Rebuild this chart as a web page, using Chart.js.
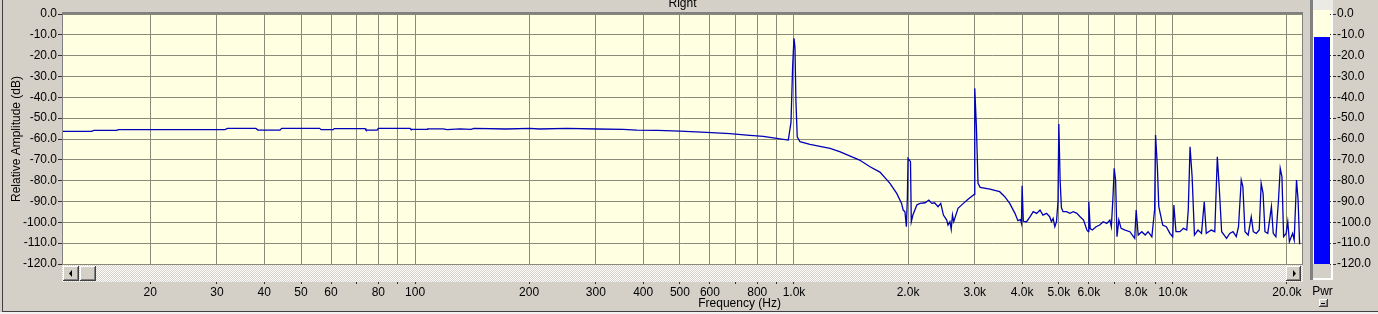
<!DOCTYPE html>
<html><head><meta charset="utf-8">
<script src="https://cdn.jsdelivr.net/npm/chart.js@4.4.1/dist/chart.umd.min.js"></script>
<style>
html,body{margin:0;padding:0;background:#D4D0C8;}
#wrap{position:relative;width:1378px;height:314px;overflow:hidden;background:#D4D0C8;}
#main{position:absolute;left:0;top:0;}
#meter{position:absolute;left:1306px;top:0;}
</style></head><body>
<div id="wrap"><canvas id="main" width="1378" height="314"></canvas><canvas id="meter" width="72" height="314"></canvas></div>
<script>
// ---- data ----
const freqHz = [11.7,14.0,14.2,16.3,16.5,31.5,32.0,38.0,38.5,44.0,44.5,56.0,56.5,60.8,61.2,73.8,74.2,79.4,80.0,97.0,97.5,107.6,108,118.6,121.6,131.4,140.5,143,174,201,213,251,302,354,385,436,500,588,678,750,830,900,966,982,992,1000,1006,1012,1020,1037,1102,1245,1320,1490,1587,1686,1792,1867,1923,1942,1963,1980,1992,2000,2030,2040,2060,2110,2150,2220,2270,2310,2350,2400,2440,2480,2530,2550,2580,2600,2620,2640,2710,2800,2880,2990,3000,3030,3060,3100,3290,3490,3600,3710,3830,3900,3960,3985,4000,4030,4110,4200,4280,4370,4460,4540,4640,4730,4780,4830,4880,4930,4975,5000,5040,5080,5130,5240,5350,5460,5580,5690,5810,5930,5980,6000,6050,6130,6270,6410,6550,6690,6820,6880,6950,7000,7060,7120,7200,7300,7480,7700,7930,8000,8100,8280,8450,8600,8800,8950,9000,9100,9180,9400,9610,9820,9990,10060,10190,10440,10660,10880,10980,11100,11240,11400,11650,11900,12100,12250,12630,12900,13100,13250,13450,13860,14130,14410,14700,14900,15150,15300,15500,15800,16100,16300,16600,16900,17100,17300,17500,17800,18200,18400,18700,19000,19200,19400,19600,19900,20100,20300,20700,20900,21200,21400,21600];
const levelDb = [-56.3,-56.3,-55.9,-55.9,-55.5,-55.5,-54.9,-54.9,-55.7,-55.7,-54.9,-54.9,-55.5,-55.5,-55.0,-55.0,-55.7,-55.7,-54.9,-54.9,-55.4,-55.4,-55.1,-55.1,-55.5,-55.1,-55.4,-54.9,-55.2,-54.9,-55.2,-54.9,-55.2,-55.4,-55.7,-55.9,-56.2,-56.8,-57.4,-58.1,-58.7,-59.7,-60.5,-52,-25,-11.7,-16,-42,-59,-61.3,-62.6,-64.5,-66.1,-70.1,-73.3,-75.9,-81.3,-86.1,-90.9,-94.1,-94.9,-102.1,-88,-69.3,-70.9,-99.7,-96.5,-91.7,-90.9,-90.6,-89.3,-90.9,-90.6,-92.5,-90.9,-96.5,-98.9,-101.3,-99.7,-103.4,-96.5,-99.7,-93.3,-90.9,-88.9,-86.6,-35.7,-54,-81.3,-83.2,-84.1,-85.3,-87.7,-90.9,-95.7,-99.2,-98.7,-100.5,-82.4,-99.5,-99.7,-97.3,-94.9,-95.7,-94.1,-96.5,-95.7,-97.3,-99.7,-98.1,-102.1,-99.7,-90,-52.8,-80,-93,-94.9,-94.9,-95.7,-94.9,-95.7,-97.3,-98.9,-103.7,-104.5,-90.1,-103,-103.7,-102.1,-101.3,-99.7,-100.5,-98.9,-102.1,-87.7,-74.1,-79.7,-106.9,-98.9,-102.9,-103.7,-104.5,-107.7,-94.1,-106.1,-104.5,-106.1,-104.5,-106.9,-94,-58.1,-73.3,-92.5,-101.3,-102.1,-105.3,-106.9,-91.7,-104.5,-104.5,-102.9,-103.7,-94.1,-63.7,-78.1,-106.1,-103.7,-105.3,-90.1,-105.3,-103.7,-104.5,-68.5,-82.9,-104.5,-107.7,-105.3,-104.5,-106.9,-102.1,-79.7,-82.9,-104.5,-106.1,-97.3,-104.5,-105.3,-103.7,-81.3,-86.1,-104.5,-105.3,-92.5,-105.3,-106.9,-89.3,-74.1,-78.1,-106.9,-105.3,-99.7,-109.3,-105.3,-108.5,-79.7,-89.3,-110.5];
const xGridFreqs = [20,30,40,50,60,70,80,90,100,200,300,400,500,600,700,800,900,1000,2000,3000,4000,5000,6000,7000,8000,9000,10000,20000];
const xLabelFreqs = [20,30,40,50,60,80,100,200,300,400,500,600,800,1000,2000,3000,4000,5000,6000,8000,10000,20000];
const xLabelText = ['20','30','40','50','60','80','100','200','300','400','500','600','800','1.0k','2.0k','3.0k','4.0k','5.0k','6.0k','8.0k','10.0k','20.0k'];
const meterLabels = ['Pwr'];
const pwrLevelDb = [-11.2];
const chartTitle = 'Right';
const xTitle = 'Frequency (Hz)';
const yTitle = 'Relative Amplitude (dB)';

const FONT = "'Liberation Sans', Arial, sans-serif";
Chart.defaults.font.family = FONT;
Chart.defaults.font.size = 12;
Chart.defaults.color = '#000';
const BG = '#D4D0C8', PLOT = '#FFFFE1', GRID = '#8A8A78';

function bevel(ctx, x, y, w, h) {
  ctx.fillStyle = BG; ctx.fillRect(x, y, w, h);
  ctx.fillStyle = '#FFFFFF'; ctx.fillRect(x, y, w - 1, 1); ctx.fillRect(x, y, 1, h - 1);
  ctx.fillStyle = '#404040'; ctx.fillRect(x, y + h - 1, w, 1); ctx.fillRect(x + w - 1, y, 1, h);
  ctx.fillStyle = '#808080'; ctx.fillRect(x + 1, y + h - 2, w - 2, 1); ctx.fillRect(x + w - 2, y + 1, 1, h - 2);
}

const mainPlugin = {
  id: 'mainDeco',
  beforeDraw(chart) {
    const ctx = chart.ctx, ca = chart.chartArea;
    ctx.save();
    ctx.fillStyle = BG; ctx.fillRect(0, 0, chart.width, chart.height);
    ctx.fillStyle = PLOT; ctx.fillRect(ca.left, ca.top, ca.right - ca.left, ca.bottom - ca.top);
    ctx.restore();
  },
  afterDraw(chart) {
    const ctx = chart.ctx, ca = chart.chartArea;
    ctx.save();
    ctx.fillStyle = '#808080';
    ctx.fillRect(ca.left, ca.top - 2, ca.right - ca.left, 2);
    ctx.fillRect(ca.left, ca.top, 1, ca.bottom - ca.top);
    ctx.fillRect(ca.right - 1, ca.top, 1, ca.bottom - ca.top);
    const pc = document.createElement('canvas'); pc.width = 2; pc.height = 2;
    const p = pc.getContext('2d');
    p.fillStyle = '#FFFFFF'; p.fillRect(0, 0, 2, 2);
    p.fillStyle = BG; p.fillRect(1, 0, 1, 1); p.fillRect(0, 1, 1, 1);
    ctx.fillStyle = ctx.createPattern(pc, 'repeat');
    const sT = ca.bottom + 1, sH = 17;
    ctx.fillRect(ca.left, sT, ca.right - ca.left, sH);
    bevel(ctx, ca.left + 1, sT + 1, 16, 15);
    bevel(ctx, ca.left + 18, sT + 1, 16, 15);
    bevel(ctx, ca.right - 17, sT + 1, 15, 15);
    ctx.fillStyle = '#000';
    const cy = sT + 8.5;
    ctx.beginPath(); ctx.moveTo(ca.left + 7, cy); ctx.lineTo(ca.left + 10, cy - 3.5); ctx.lineTo(ca.left + 10, cy + 3.5); ctx.closePath(); ctx.fill();
    ctx.beginPath(); ctx.moveTo(ca.right - 7, cy); ctx.lineTo(ca.right - 10, cy - 3.5); ctx.lineTo(ca.right - 10, cy + 3.5); ctx.closePath(); ctx.fill();
    ctx.font = '12px ' + FONT; ctx.fillStyle = '#000'; ctx.textAlign = 'center'; ctx.textBaseline = 'alphabetic';
    ctx.fillText(chartTitle, (ca.left + ca.right) / 2, 7);
    ctx.fillText(xTitle, ca.left + (ca.right - ca.left) * 0.546, 307);
    ctx.fillStyle = '#404040';
    ctx.fillRect(2, 0, 1, 311);
    ctx.fillRect(2, 311, chart.width, 1);
    ctx.fillStyle = '#F2F2F2';
    ctx.fillRect(0, 312, chart.width, 2);
    ctx.restore();
  }
};

new Chart(document.getElementById('main'), {
  type: 'scatter',
  data: { datasets: [{
    data: freqHz.map((f, i) => ({ x: f, y: levelDb[i] })),
    showLine: true, borderColor: '#0000B8', borderWidth: 1.3, pointRadius: 0, tension: 0, fill: false
  }] },
  options: {
    responsive: false, animation: false, devicePixelRatio: 1,
    layout: { padding: { left: 0, right: 75, top: 14, bottom: 0 } },
    plugins: { legend: { display: false }, tooltip: { enabled: false }, title: { display: false } },
    scales: {
      x: {
        type: 'logarithmic', min: 11.7, max: 22050, bounds: 'data', position: 'bottom',
        afterBuildTicks: s => { s.ticks = xGridFreqs.map(v => ({ value: v })); },
        afterFit: s => { s.height = 50; },
        ticks: { autoSkip: false, maxRotation: 0, minRotation: 0, padding: 1, color: '#000',
          callback: v => { const i = xLabelFreqs.indexOf(v); return i >= 0 ? xLabelText[i] : ''; } },
        grid: { color: GRID, lineWidth: 1, drawTicks: true, tickLength: 20, tickColor: '#303030', tickWidth: 1 },
        border: { display: false }
      },
      y: {
        min: -120, max: 0, position: 'left',
        afterFit: s => { s.width = 62; },
        ticks: { stepSize: 10, padding: 1, color: '#000', callback: v => Number(v).toFixed(1) },
        grid: { color: GRID, lineWidth: 1, tickLength: 4, tickColor: '#303030' },
        border: { display: false },
        title: { display: true, text: yTitle, color: '#000', font: { size: 12 }, padding: { top: 9.5, bottom: 0 } }
      }
    }
  },
  plugins: [mainPlugin]
});

const meterPlugin = {
  id: 'meterDeco',
  beforeDraw(chart) {
    const ctx = chart.ctx, ca = chart.chartArea;
    ctx.save();
    ctx.fillStyle = BG; ctx.fillRect(0, 0, chart.width, chart.height);
    ctx.fillStyle = '#808080'; ctx.fillRect(ca.left - 4, 0, 3, 280);
    ctx.fillStyle = '#ECEAE4'; ctx.fillRect(ca.left - 1, 0, ca.right - ca.left + 4, 10);
    ctx.fillStyle = PLOT; ctx.fillRect(ca.left - 1, 10, ca.right - ca.left + 3, ca.bottom - 10);
    ctx.fillStyle = BG; ctx.fillRect(ca.left - 1, ca.bottom, ca.right - ca.left + 3, 278 - ca.bottom);
    ctx.restore();
  },
  afterDraw(chart) {
    const ctx = chart.ctx, ca = chart.chartArea;
    ctx.save();
    ctx.fillStyle = '#FFFFFF';
    ctx.fillRect(ca.right + 1, 10, 2, 270);
    ctx.fillRect(ca.left - 1, 278, ca.right - ca.left + 4, 2);
    ctx.font = '12px ' + FONT; ctx.fillStyle = '#000'; ctx.textAlign = 'center'; ctx.textBaseline = 'middle';
    ctx.fillText(meterLabels[0], (ca.left + ca.right) / 2 + 0.5, 292);
    bevel(ctx, ca.left + 5, 299, 9, 8);
    ctx.fillStyle = '#000'; ctx.fillRect(ca.left + 7, 303, 4, 1);
    ctx.fillStyle = '#404040'; ctx.fillRect(0, 311, chart.width, 1);
    ctx.fillStyle = '#F2F2F2'; ctx.fillRect(0, 312, chart.width, 2);
    ctx.restore();
  }
};

new Chart(document.getElementById('meter'), {
  type: 'bar',
  data: { labels: meterLabels, datasets: [{
    data: pwrLevelDb.map(v => [-120, v]),
    backgroundColor: '#0000FF', borderWidth: 0, barPercentage: 1, categoryPercentage: 1
  }] },
  options: {
    responsive: false, animation: false, devicePixelRatio: 1,
    layout: { padding: { left: 8, right: 0, top: 14, bottom: 50 } },
    plugins: { legend: { display: false }, tooltip: { enabled: false } },
    scales: {
      x: { display: false },
      y: { position: 'right', min: -120, max: 0, afterFit: s => { s.width = 48; },
           ticks: { stepSize: 10, padding: 1, color: '#000', callback: v => Number(v).toFixed(1) },
           grid: { drawOnChartArea: false, tickLength: 6, tickColor: '#303030' },
           border: { display: false } }
    }
  },
  plugins: [meterPlugin]
});
</script>
</body></html>
